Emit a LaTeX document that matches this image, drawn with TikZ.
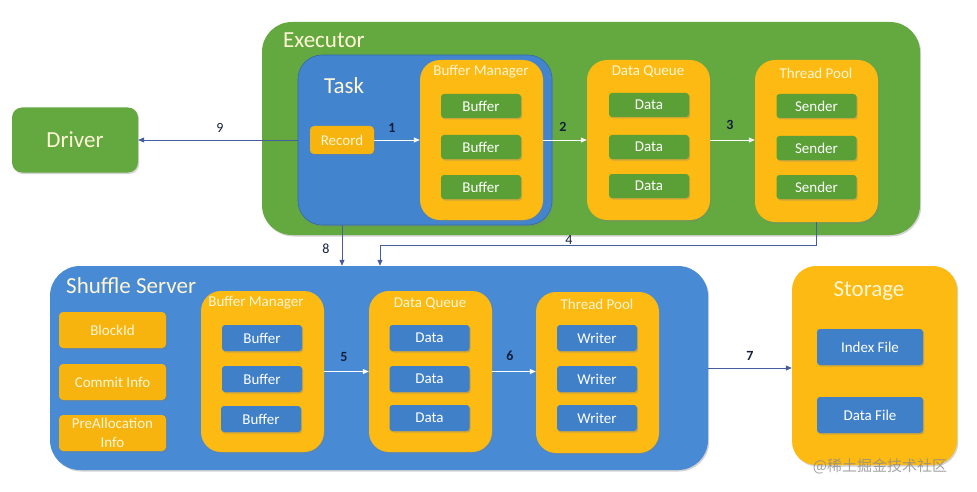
\documentclass[tikz,border=0pt]{standalone}
\usepackage{fontspec}
\setmainfont{Carlito}
\newfontfamily\cjk{Noto Sans CJK SC}
\usetikzlibrary{shadows,arrows.meta}
\definecolor{exgreen}{RGB}{100,168,64}
\definecolor{btngreen}{RGB}{90,160,54}
\definecolor{tblue}{RGB}{66,132,206}
\definecolor{ssblue}{RGB}{72,138,212}
\definecolor{btnblue}{RGB}{64,128,200}
\definecolor{orng}{RGB}{252,186,18}
\definecolor{btnorng}{RGB}{248,180,14}
\definecolor{paletxt}{RGB}{255,246,214}
\definecolor{lineblue}{RGB}{70,92,160}
\definecolor{numcol}{RGB}{20,30,60}
\tikzset{
  x=1pt, y=-1pt,
  shad/.style={drop shadow={opacity=0.35,shadow xshift=1.2pt,shadow yshift=-1.5pt}},
  bigbox/.style={rounded corners=#1, shad, inner sep=0pt},
  exbg/.style={bigbox=30pt, fill=exgreen, minimum width=658pt, minimum height=213pt},
  ssbg/.style={bigbox=30pt, fill=ssblue, minimum width=658pt, minimum height=204pt},
  taskbg/.style={bigbox=24pt, fill=tblue, draw=tblue!80!black, line width=0.6pt, minimum width=254pt, minimum height=170pt},
  cont/.style={bigbox=20pt, fill=orng, minimum width=123pt, minimum height=160pt},
  gbtn/.style={rounded corners=3pt, shad, fill=btngreen, text=white, font=\fontsize{15}{17}\selectfont, minimum width=80pt, minimum height=24pt, inner sep=0pt},
  bbtn/.style={rounded corners=3pt, shad, fill=btnblue, text=white, font=\fontsize{15}{17}\selectfont, minimum width=80pt, minimum height=26pt, inner sep=0pt},
  obtn/.style={rounded corners=4pt, shad, fill=btnorng, text=paletxt, font=\fontsize{15}{19}\selectfont, minimum width=107pt, minimum height=36pt, inner sep=0pt, align=center},
  ctitle/.style={text=paletxt, font=\fontsize{15}{17}\selectfont, inner sep=0pt},
  btitle/.style={text=paletxt, font=\fontsize{23}{26}\selectfont, inner sep=0pt},
  warrow/.style={draw=white, line width=0.8pt, -{Triangle[length=6pt,width=5pt]}},
  barrow/.style={draw=lineblue, line width=0.8pt, -{Triangle[length=6pt,width=5pt]}},
  num/.style={font=\fontsize{14}{15}\selectfont, text=numcol, inner sep=0pt},
  bnum/.style={font=\bfseries\fontsize{14}{15}\selectfont, text=numcol, inner sep=0pt},
}
\begin{document}
\begin{tikzpicture}
\useasboundingbox (0,0) rectangle (977,492);
% Executor
\node[exbg] (ex) at (591,128.5) {};
\node[btitle, anchor=west] (extitle) at (283,40) {Executor};
\node[taskbg] (task) at (425,140) {};
\node[btitle, anchor=west] (tasktitle) at (324,86) {Task};
\node[obtn, minimum width=64pt, minimum height=28pt] (rec) at (342,140) {Record};
\node[cont] (bme) at (481.5,140) {};
\node[ctitle] (bmet) at (481,72) {Buffer Manager};
\node[gbtn] (b1) at (481,106) {Buffer};
\node[gbtn] (b2) at (481,147) {Buffer};
\node[gbtn] (b3) at (481,187) {Buffer};
\node[cont] (dqe) at (648.5,140) {};
\node[ctitle] (dqet) at (648,72) {Data Queue};
\node[gbtn] (d1) at (649,105) {Data};
\node[gbtn] (d2) at (649,147) {Data};
\node[gbtn] (d3) at (649,186) {Data};
\node[cont, minimum height=162pt] (tpe) at (816.5,141) {};
\node[ctitle] (tpet) at (816,73) {Thread Pool};
\node[gbtn] (s1) at (816.5,106) {Sender};
\node[gbtn] (s2) at (816.5,148) {Sender};
\node[gbtn] (s3) at (816.5,187) {Sender};
% Driver
\node[bigbox=10pt, fill=exgreen, minimum width=126pt, minimum height=65pt, text=paletxt, font=\fontsize{23}{26}\selectfont] (drv) at (75,140) {Driver};
% Shuffle server
\node[ssbg] (ss) at (379,368) {};
\node[btitle, anchor=west] (sstitle) at (66,286) {Shuffle Server};
\node[obtn] (blk) at (112.5,330) {BlockId};
\node[obtn] (cmt) at (112.5,382) {Commit Info};
\node[obtn] (pre) at (112.5,433) {PreAllocation\\Info};
\node[cont, minimum height=161pt] (bms) at (262.5,371.5) {};
\node[ctitle] (bmst) at (256,303) {Buffer Manager};
\node[bbtn] (sb1) at (262,338) {Buffer};
\node[bbtn] (sb2) at (262,379) {Buffer};
\node[bbtn] (sb3) at (261,419) {Buffer};
\node[cont, minimum height=161pt] (dqs) at (430.5,371.5) {};
\node[ctitle] (dqst) at (430,304) {Data Queue};
\node[bbtn] (sd1) at (429.5,338) {Data};
\node[bbtn] (sd2) at (429.5,379) {Data};
\node[bbtn] (sd3) at (429.5,418) {Data};
\node[cont, minimum height=161pt] (tps) at (597.5,372.5) {};
\node[ctitle] (tpst) at (597,304) {Thread Pool};
\node[bbtn] (w1) at (597,338) {Writer};
\node[bbtn] (w2) at (597,379) {Writer};
\node[bbtn] (w3) at (597,418) {Writer};
% Storage
\node[bigbox=24pt, fill=orng, minimum width=165pt, minimum height=199pt] (st) at (874.5,365.5) {};
\node[btitle] (sttitle) at (869,291) {Storage};
\node[bbtn, minimum width=106pt, minimum height=36pt] (idx) at (870,347) {Index File};
\node[bbtn, minimum width=106pt, minimum height=36pt] (dfl) at (870,415) {Data File};
% Watermark
\node[text=black!45, opacity=0.8, font=\cjk\fontsize{15}{17}\selectfont, inner sep=0pt] (wm) at (880,466) {@稀土掘金技术社区};
% White arrows
\draw[warrow] (rec.east) -- (bme.west);
\node[bnum] (n1) at (392,128) {1};
\draw[warrow] (bme.east) -- (dqe.west);
\node[bnum] (n2) at (563,127) {2};
\draw[warrow] (dqe.east) -- (dqe.east -| tpe.west);
\node[bnum] (n3) at (730,125) {3};
\draw[warrow] (bms.east) -- (bms.east -| dqs.west);
\node[bnum] (n5) at (344,357) {5};
\draw[warrow] (dqs.east) -- (dqs.east -| tps.west);
\node[bnum] (n6) at (510,356) {6};
% Blue arrows
\draw[barrow] (task.west) -- (drv.east);
\node[num] (n9) at (220,128) {9};
\draw[barrow] (rec |- task.south) -- (rec |- ss.north);
\node[num] (n8) at (326,249) {8};
\coordinate (c4) at (380,245.5);
\draw[barrow] (tpe.south) |- (c4) -- (c4 |- ss.north);
\node[num] (n4) at (569,240) {4};
\draw[barrow] (ss.east) -- (ss.east -| st.west);
\node[bnum] (n7) at (750,356) {7};
\end{tikzpicture}
\end{document}
